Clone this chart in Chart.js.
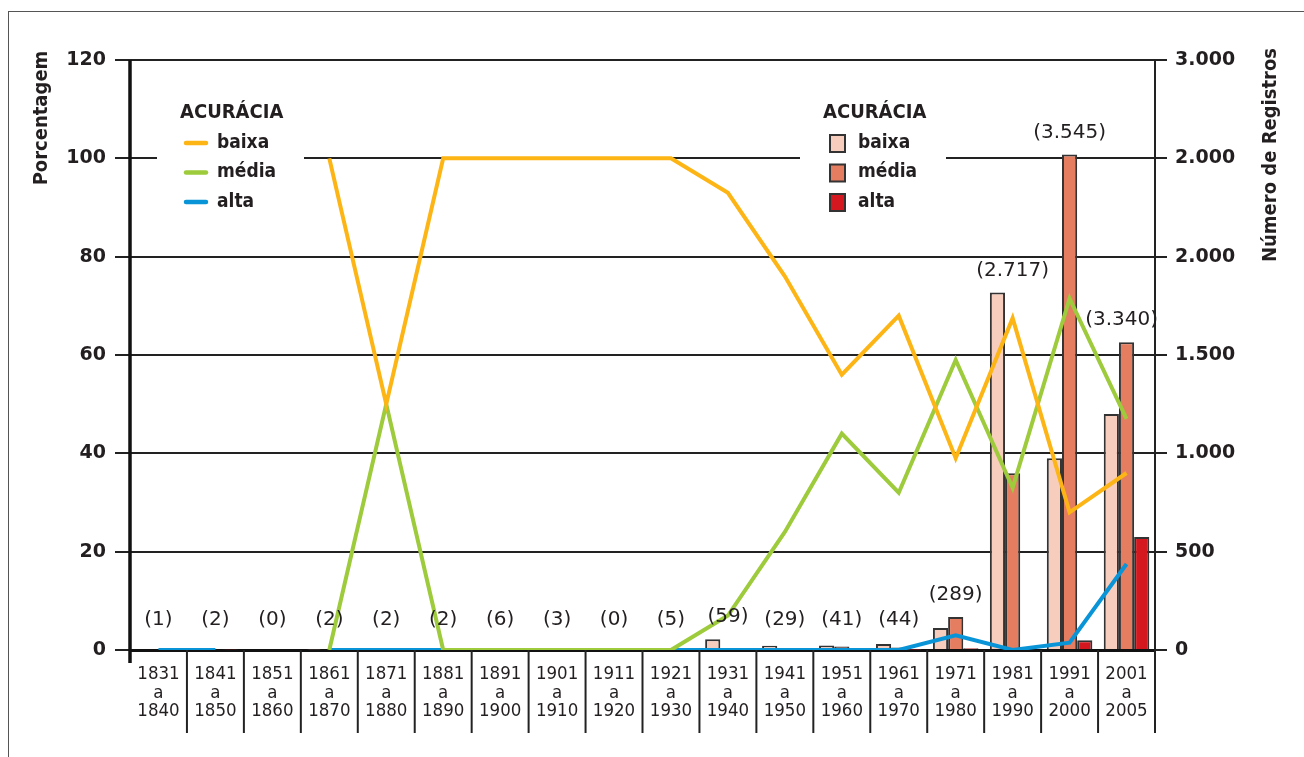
<!DOCTYPE html>
<html>
<head>
<meta charset="utf-8">
<script src="https://cdn.jsdelivr.net/npm/chart.js@4.4.0/dist/chart.umd.min.js"></script>
<style>
    html, body { margin: 0; padding: 0; background: #fff; }
    #wrap { position: relative; width: 1304px; height: 757px; overflow: hidden; }
    #frame { position: absolute; left: 8px; top: 11px; width: 1310px; height: 760px;
             border-left: 1.5px solid #555; border-top: 1.5px solid #555; }
    canvas { position: absolute; left: 0; top: 0; }
</style>
</head>
<body>
<div id="wrap">
    <div id="frame"></div>
    <canvas id="accuracyChart" width="1304" height="757"></canvas>
</div>
<script>
// Periods (x categories)
const periods = [
    ['1831', 'a', '1840'], ['1841', 'a', '1850'], ['1851', 'a', '1860'], ['1861', 'a', '1870'],
    ['1871', 'a', '1880'], ['1881', 'a', '1890'], ['1891', 'a', '1900'], ['1901', 'a', '1910'],
    ['1911', 'a', '1920'], ['1921', 'a', '1930'], ['1931', 'a', '1940'], ['1941', 'a', '1950'],
    ['1951', 'a', '1960'], ['1961', 'a', '1970'], ['1971', 'a', '1980'], ['1981', 'a', '1990'],
    ['1991', 'a', '2000'], ['2001', 'a', '2005']
];

// Total number of records per period (labels above the bars)
const records = [1, 2, 0, 2, 2, 2, 6, 3, 0, 5, 59, 29, 41, 44, 289, 2717, 3545, 3340];

// Percentages (lines, left axis)
const pctBaixa = [null, null, null, 100, 50, 100, 100, 100, 100, 100, 93, 76, 56, 68, 39, 67.5, 28, 36];
const pctMedia = [null, null, null, 0, 50, 0, 0, 0, 0, 0, 7, 24, 44, 32, 59, 33, 71.5, 47];
const pctAlta  = [0, 0, null, 0, 0, 0, 0, 0, 0, 0, 0, 0, 0, 0, 3, 0, 1.5, 17.5];

// Number of records (bars, right axis)
const nBaixa = [0, 0, 0, 2, 1, 2, 6, 3, 0, 5, 55, 22, 23, 30, 112, 1818, 975, 1200];
const nMedia = [0, 0, 0, 0, 1, 0, 0, 0, 0, 0, 4, 7, 18, 13, 168, 899, 2520, 1565];
const nAlta  = [1, 2, 0, 0, 0, 0, 0, 0, 0, 0, 0, 0, 0, 1, 9, 0, 50, 575];

// Tick labels
const leftTicks = [0, 20, 40, 60, 80, 100, 120];
const rightTickLabels = ['0', '500', '1.000', '1.500', '2.000', '2.000', '3.000'];

const colors = {
    lineBaixa: '#FDB515', lineMedia: '#9DCB3B', lineAlta: '#0A94D8',
    barBaixa: '#F7CDBD', barMedia: '#E57D61', barAlta: '#D5181F',
    ink: '#231f20'
};

function fmt(n) {
    return String(n).replace(/\B(?=(\d{3})+(?!\d))/g, '.');
}

// White boxes behind the legends (cover the grid line)
const legendBoxes = {
    id: 'legendBoxes',
    beforeDatasetsDraw(chart) {
        const ctx = chart.ctx;
        ctx.save();
        ctx.fillStyle = '#fff';
        ctx.fillRect(157, 90, 147, 125);
        ctx.fillRect(800, 90, 146, 125);
        ctx.restore();
    }
};

// Axis extras: left axis line, column separators under the axis, titles, legends, record labels
const decorations = {
    id: 'decorations',
    afterDatasetsDraw(chart) {
        const { ctx, scales: { x, y1 } } = chart;
        const area = chart.chartArea;
        ctx.save();

        // left axis
        ctx.strokeStyle = '#111';
        ctx.lineWidth = 3.5;
        ctx.beginPath();
        ctx.moveTo(area.left, area.top);
        ctx.lineTo(area.left, area.bottom + 13);
        ctx.stroke();

        // separators between period labels
        ctx.lineWidth = 2;
        ctx.strokeStyle = '#222';
        for (let i = 1; i <= periods.length; i++) {
            const bx = i < periods.length
                ? (x.getPixelForValue(i - 1) + x.getPixelForValue(i)) / 2
                : area.right;
            ctx.beginPath();
            ctx.moveTo(bx, area.bottom);
            ctx.lineTo(bx, area.bottom + 83);
            ctx.stroke();
        }

        // record totals above each group
        ctx.font = '20px "DejaVu Sans"';
        ctx.fillStyle = colors.ink;
        ctx.textAlign = 'center';
        ctx.textBaseline = 'middle';
        const base = y1.getPixelForValue(0);
        records.forEach((n, i) => {
            const top = y1.getPixelForValue(Math.max(nBaixa[i], nMedia[i], nAlta[i]));
            const yy = Math.min(top - 22, base - 30);
            const txt = '(' + fmt(n) + ')';
            const w = ctx.measureText(txt).width;
            const cx = Math.min(x.getPixelForValue(i), area.right + 3 - w / 2);
            ctx.fillText(txt, cx, yy);
        });

        // axis titles
        ctx.font = 'bold 20px "DejaVu Sans Condensed"';
        ctx.save();
        ctx.translate(42, 118);
        ctx.rotate(-Math.PI / 2);
        ctx.fillText('Porcentagem', 0, 0);
        ctx.restore();
        ctx.save();
        ctx.translate(1271, 155);
        ctx.rotate(-Math.PI / 2);
        ctx.fillText('Número de Registros', 0, 0);
        ctx.restore();

        // left legend (lines)
        ctx.textAlign = 'left';
        ctx.font = 'bold 20px "DejaVu Sans Condensed"';
        ctx.fillText('ACURÁCIA', 180, 113);
        ctx.save();
        ctx.translate(823, 0);
        ctx.fillText('ACURÁCIA', 0, 113);
        ctx.restore();
        ctx.font = 'bold 19px "DejaVu Sans Condensed"';
        const names = ['baixa', 'média', 'alta'];
        const lineCols = [colors.lineBaixa, colors.lineMedia, colors.lineAlta];
        const barCols = [colors.barBaixa, colors.barMedia, colors.barAlta];
        names.forEach((name, k) => {
            const yy = 143 + k * 29.5;
            ctx.strokeStyle = lineCols[k];
            ctx.lineWidth = 4.5;
            ctx.lineCap = 'round';
            ctx.beginPath();
            ctx.moveTo(186, yy);
            ctx.lineTo(206, yy);
            ctx.stroke();
            ctx.fillStyle = colors.ink;
            ctx.fillText(name, 217, yy);
        });

        // right legend (bars)
        names.forEach((name, k) => {
            const yy = 143 + k * 29.5;
            ctx.fillStyle = barCols[k];
            ctx.fillRect(830, yy - 8, 15, 17);
            ctx.strokeStyle = '#333';
            ctx.lineWidth = 2;
            ctx.strokeRect(830, yy - 8, 15, 17);
            ctx.fillStyle = colors.ink;
            ctx.fillText(name, 858, yy);
        });

        ctx.restore();
    }
};

const lineStyle = { type: 'line', yAxisID: 'y', borderWidth: 4, pointRadius: 0, tension: 0, spanGaps: false, fill: false };
const barStyle = { yAxisID: 'y1', borderColor: '#333', borderWidth: 2, order: 4 };

new Chart(document.getElementById('accuracyChart'), {
    type: 'bar',
    data: {
        labels: periods,
        datasets: [
            { ...lineStyle, label: 'baixa', data: pctBaixa, borderColor: colors.lineBaixa, order: 0 },
            { ...lineStyle, label: 'média', data: pctMedia, borderColor: colors.lineMedia, order: 1 },
            { ...lineStyle, label: 'alta', data: pctAlta, borderColor: colors.lineAlta, order: 2 },
            { ...barStyle, label: 'baixa', data: nBaixa, backgroundColor: colors.barBaixa },
            { ...barStyle, label: 'média', data: nMedia, backgroundColor: colors.barMedia },
            { ...barStyle, label: 'alta', data: nAlta, backgroundColor: colors.barAlta }
        ]
    },
    options: {
        responsive: false,
        animation: false,
        layout: { padding: { top: 60, left: 0, right: 0, bottom: 0 } },
        datasets: { bar: { categoryPercentage: 0.8, barPercentage: 1.0 } },
        plugins: { legend: { display: false }, tooltip: { enabled: false } },
        scales: {
            x: {
                offset: true,
                grid: { display: false, drawTicks: false },
                border: { display: true, color: '#111', width: 3 },
                ticks: {
                    font: { family: 'DejaVu Sans Condensed', size: 18.5, lineHeight: 1.0 },
                    color: colors.ink, padding: 15, maxRotation: 0, autoSkip: false
                },
                afterFit(s) { s.height = 107; s.paddingLeft = 0; s.paddingRight = 0; }
            },
            y: {
                position: 'left',
                min: 0, max: 120,
                afterBuildTicks(s) { s.ticks = leftTicks.map(v => ({ value: v })); },
                ticks: { font: { family: 'DejaVu Sans', size: 19, weight: 'bold' }, color: colors.ink, padding: 9 },
                grid: { color: '#222', lineWidth: 2, tickLength: 15 },
                border: { display: false },
                afterFit(s) { s.width = 130; s.paddingTop = 0; s.paddingBottom = 0; }
            },
            y1: {
                position: 'right',
                min: 0, max: 3000,
                afterBuildTicks(s) { s.ticks = rightTickLabels.map((t, i) => ({ value: i * 500 })); },
                ticks: {
                    callback: (v, i) => rightTickLabels[i],
                    font: { family: 'DejaVu Sans', size: 19, weight: 'bold' }, color: colors.ink, padding: 8
                },
                grid: { drawOnChartArea: false, color: '#222', lineWidth: 2, tickLength: 12 },
                border: { display: true, color: '#222', width: 2 },
                afterFit(s) { s.width = 149; s.paddingTop = 0; s.paddingBottom = 0; }
            }
        }
    },
    plugins: [legendBoxes, decorations]
});
</script>
</body>
</html>
